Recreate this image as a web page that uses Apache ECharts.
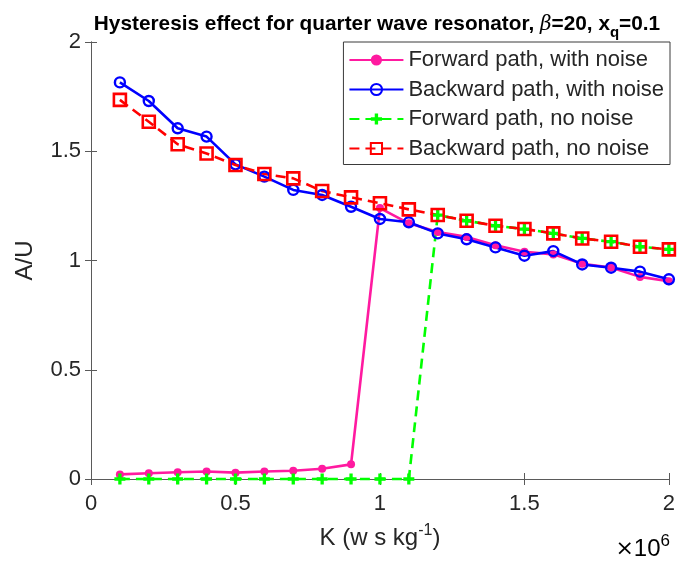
<!DOCTYPE html>
<html>
<head>
<meta charset="utf-8">
<script src="https://cdn.jsdelivr.net/npm/echarts@6/dist/echarts.min.js"></script>
<style>html,body{margin:0;padding:0;background:#fff;}#c{width:678px;height:564px;}</style>
</head>
<body>
<div id="c"></div>
<script>
// K values (in units of 10^6 w s kg^-1)
var kValues = [0.1,0.2,0.3,0.4,0.5,0.6,0.7,0.8,0.9,1.0,1.1,1.2,1.3,1.4,1.5,1.6,1.7,1.8,1.9,2.0];
var forwardNoise = [0.021,0.026,0.031,0.034,0.029,0.034,0.038,0.047,0.067,1.24,1.17,1.13,1.108,1.07,1.04,1.028,0.985,0.968,0.925,0.905];
var backwardNoise = [1.815,1.73,1.605,1.567,1.44,1.384,1.323,1.30,1.246,1.19,1.175,1.124,1.097,1.06,1.022,1.043,0.982,0.967,0.949,0.914];
var forwardNoNoise = [0,0,0,0,0,0,0,0,0,0,0,1.208,1.182,1.159,1.144,1.124,1.101,1.086,1.063,1.051];
var backwardNoNoise = [1.735,1.635,1.532,1.49,1.437,1.396,1.376,1.318,1.289,1.262,1.234,1.208,1.182,1.159,1.144,1.124,1.101,1.086,1.063,1.051];
var seriesNames = ['Forward path, with noise','Backward path, with noise','Forward path, no noise','Backward path, no noise'];
var xTicks = [0,0.5,1,1.5,2];
var yTicks = [0,0.5,1,1.5,2];

function pairs(ys){ return kValues.map(function(k,i){ return [k, ys[i]]; }); }

var FONT = 'Liberation Sans';
var plusPath = 'path://M3.5,0 L6.5,0 L6.5,3.5 L10,3.5 L10,6.5 L6.5,6.5 L6.5,10 L3.5,10 L3.5,6.5 L0,6.5 L0,3.5 L3.5,3.5 Z';
var axisCol = '#5a5a5a';
var txtCol = '#262626';

var chart = echarts.init(document.getElementById('c'), null, {renderer:'canvas'});
var baseX = {type:'value', min:xTicks[0], max:xTicks[xTicks.length-1], interval:xTicks[1]-xTicks[0]};
var baseY = {type:'value', min:yTicks[0], max:yTicks[yTicks.length-1], interval:yTicks[1]-yTicks[0]};
function ax(base, extra){ var o={}; for(var k in base)o[k]=base[k]; for(var k2 in extra)o[k2]=extra[k2]; return o; }

chart.setOption({
  backgroundColor:'#fff',
  animation:false,
  textStyle:{fontFamily:FONT},
  title:{
    text:'{n|Hysteresis effect for quarter wave resonator, }{b|β}{n|=20, x}{s|q}{n|=0.1}',
    left:372, textAlign:'center', top:4,
    textStyle:{
      rich:{
        n:{fontFamily:FONT, fontSize:20.8, fontWeight:'bold', color:'#000'},
        b:{fontFamily:'DejaVu Serif', fontSize:20, fontStyle:'italic', fontWeight:'normal', color:'#000'},
        s:{fontFamily:FONT, fontSize:15, fontWeight:'bold', color:'#000', padding:[16,0,0,0]}
      }
    }
  },
  grid:{left:91, right:7, top:42, bottom:85, containLabel:false},
  legend:{
    orient:'vertical', right:8, top:42,
    data:seriesNames,
    itemWidth:54, itemHeight:14, itemGap:7.5,
    padding:[7,6,5,5],
    backgroundColor:'#fff', borderColor:'#3a3a3a', borderWidth:1,
    textStyle:{fontFamily:FONT, fontSize:22, color:txtCol}
  },
  xAxis:[
    ax(baseX,{position:'bottom',
      axisLine:{lineStyle:{color:axisCol,width:1}},
      axisTick:{inside:true,length:6,lineStyle:{color:axisCol}},
      axisLabel:{margin:14, fontFamily:FONT, fontSize:22, color:txtCol},
      splitLine:{show:false},
      name:'{a|K (w s kg}{s|-1}{a|)}', nameLocation:'middle', nameGap:44,
      nameTextStyle:{rich:{a:{fontFamily:FONT,fontSize:24,color:txtCol}, s:{fontFamily:FONT,fontSize:16,color:txtCol,padding:[0,0,14,0]}}}
    }),
    ax(baseX,{position:'top',
      axisLine:{lineStyle:{color:axisCol,width:1}},
      axisTick:{inside:true,length:6,lineStyle:{color:axisCol}},
      axisLabel:{show:false}, splitLine:{show:false}})
  ],
  yAxis:[
    ax(baseY,{position:'left',
      axisLine:{show:true,lineStyle:{color:axisCol,width:1}},
      axisTick:{show:true,inside:true,length:6,lineStyle:{color:axisCol}},
      axisLabel:{margin:10, fontFamily:FONT, fontSize:22, color:txtCol},
      splitLine:{show:false},
      name:'A/U', nameLocation:'middle', nameGap:54,
      nameTextStyle:{fontFamily:FONT,fontSize:24,color:txtCol}
    }),
    ax(baseY,{position:'right',
      axisLine:{show:true,lineStyle:{color:axisCol,width:1}},
      axisTick:{show:true,inside:true,length:6,lineStyle:{color:axisCol}},
      axisLabel:{show:false}, splitLine:{show:false}})
  ],
  graphic:[{
    type:'text', right:8, top:533,
    style:{
      text:'{x|×}{a|10}{s|6}',
      rich:{x:{fontFamily:'DejaVu Sans',fontSize:22,color:'#555'}, a:{fontFamily:FONT,fontSize:24,color:txtCol}, s:{fontFamily:FONT,fontSize:17,color:txtCol,padding:[0,0,16,0]}}
    }
  }],
  series:[
    {name:seriesNames[0], type:'line', data:pairs(forwardNoise), clip:false,
     symbol:'circle', symbolSize:8,
     lineStyle:{color:'#ff1aa0', width:2.6},
     itemStyle:{color:'#ff1aa0'}},
    {name:seriesNames[1], type:'line', data:pairs(backwardNoise), clip:false,
     symbol:'circle', symbolSize:10,
     lineStyle:{color:'#0000ff', width:2.6},
     itemStyle:{color:'rgba(0,0,0,0)', borderColor:'#0000ff', borderWidth:2.4}},
    {name:seriesNames[2], type:'line', data:pairs(forwardNoNoise), clip:false,
     symbol:plusPath, symbolSize:11,
     lineStyle:{color:'#00ff00', width:2.6, type:[10,6]},
     itemStyle:{color:'#00ff00'}},
    {name:seriesNames[3], type:'line', data:pairs(backwardNoNoise), clip:false,
     symbol:'rect', symbolSize:12,
     lineStyle:{color:'#ff0000', width:2.6, type:[10,6]},
     itemStyle:{color:'rgba(0,0,0,0)', borderColor:'#ff0000', borderWidth:2.6}}
  ]
});
</script>
</body>
</html>
